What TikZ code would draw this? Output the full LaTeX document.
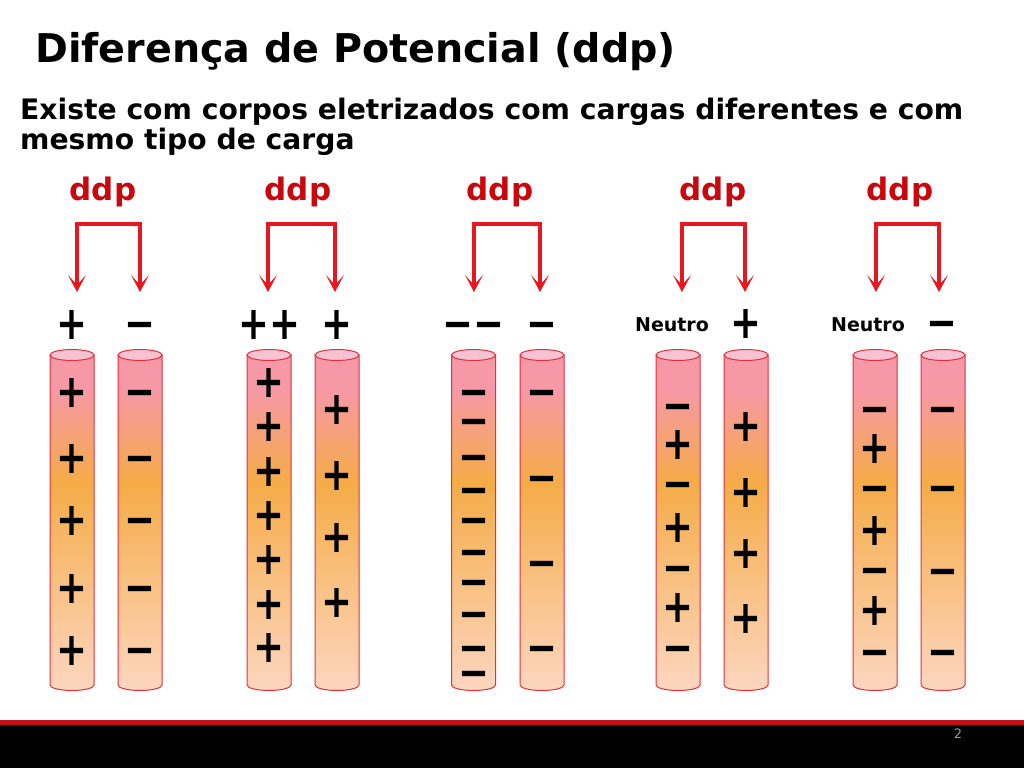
\documentclass[tikz,border=0pt]{standalone}
\usepackage{fontspec}
\setmainfont{DejaVu Sans}
\usetikzlibrary{arrows.meta,positioning}
\definecolor{vermelho}{RGB}{232,22,30}
\definecolor{ddpred}{RGB}{200,8,12}
\definecolor{contorno}{RGB}{226,48,60}
\definecolor{rosa}{RGB}{246,152,166}
\definecolor{laranja}{RGB}{245,172,72}
\definecolor{pessego}{RGB}{252,214,192}
\definecolor{tampa}{RGB}{248,194,210}
\definecolor{faixa}{RGB}{192,16,22}
\pgfdeclareverticalshading{barra}{100bp}{color(0bp)=(pessego); color(25bp)=(pessego); color(56bp)=(laranja); color(70bp)=(rosa); color(75bp)=(rosa); color(100bp)=(rosa)}
\newcommand{\mais}{\scalebox{1}[1.25]{+}}
\newcommand{\menos}{\scalebox{1}[1.25]{−}}
\tikzset{
  titulo/.style={anchor=base west, inner sep=0pt, font=\fontsize{39.6}{46}\selectfont\bfseries},
  texto/.style={anchor=base west, inner sep=0pt, font=\fontsize{28.2}{30}\selectfont\bfseries},
  ddplabel/.style={anchor=base, inner sep=0pt, text=ddpred, font=\fontsize{31}{36}\selectfont\bfseries},
  sinal/.style={anchor=base, yshift=-15.5pt, inner sep=0pt, font=\fontsize{37}{40}\selectfont\bfseries},
  neutro/.style={inner sep=0pt, font=\fontsize{19}{22}\selectfont\bfseries},
  seta/.style={draw=vermelho, line width=4.5pt, {Stealth[length=17pt,width=18pt,inset=10pt]}-{Stealth[length=17pt,width=18pt,inset=10pt]}},
  corpo/.style={draw=contorno, line width=1pt, shading=barra},
  tampa/.style={draw=contorno, line width=1pt, fill=tampa}
}
\begin{document}
\begin{tikzpicture}[x=1pt, y=1pt]
  \useasboundingbox (0,0) rectangle (1024,768);

  % titulo e texto
  \node [titulo] (titulo) at (35,705.5) {Diferença de Potencial (ddp)};
  \node [texto] (linha1) at (20,648) {Existe com corpos eletrizados com cargas diferentes e com};
  \node [texto] (linha2) at (20,618) {mesmo tipo de carga};

  % corpos (cilindros)
  \foreach \x in {72,140,269,337,473.5,542,678,746,875,943} {
    \shadedraw [corpo] (\x-22,413) -- (\x-22,83) arc [start angle=180, end angle=360, x radius=22, y radius=5.5] -- (\x+22,413) -- cycle;
    \draw [tampa] (\x,413) ellipse [x radius=22, y radius=5.5];
  }

  % rotulos ddp
  \node [ddplabel] (ddp1) at (103,567) {ddp};
  \node [ddplabel] (ddp2) at (298,567) {ddp};
  \node [ddplabel] (ddp3) at (500,567) {ddp};
  \node [ddplabel] (ddp4) at (713,567) {ddp};
  \node [ddplabel] (ddp5) at (900,567) {ddp};

  % cargas acima dos corpos
  \node [sinal] (topo1a) at (72,444) {\mais};
  \node [sinal] (topo1b) at (140,444) {\menos};
  \node [sinal] (topo2a) at (269,444) {\mais\mais};
  \node [sinal] (topo2b) at (337,444) {\mais};
  \node [sinal] (topo3a) at (473,444) {\menos\menos};
  \node [sinal] (topo3b) at (542,444) {\menos};
  \node [neutro] (topo4a) at (672,443) {Neutro};
  \node [sinal] (topo4b) at (746,445) {\mais};
  \node [neutro] (topo5a) at (868,443) {Neutro};
  \node [sinal] (topo5b) at (942,445) {\menos};

  % setas
  \coordinate (p1a) at (77,476);  \coordinate (p1b) at (140,476);
  \coordinate (p2a) at (268,476); \coordinate (p2b) at (335,476);
  \coordinate (p3a) at (474,476); \coordinate (p3b) at (540,476);
  \coordinate (p4a) at (682,476); \coordinate (p4b) at (745,476);
  \coordinate (p5a) at (876,476); \coordinate (p5b) at (939,476);
  \foreach \i in {1,...,5}
    \draw [seta] (p\i a) -- ++(0,68) -| (p\i b);

  % cargas nos corpos
  \foreach \y [count=\i] in {376,310,248,180,118} {
    \node [sinal] (c1a-\i) at (72,\y) {\mais};
    \node [sinal] (c1b-\i) at (140,\y) {\menos};
  }
  \foreach \y [count=\i] in {386,342,297,253,209,164,121}
    \node [sinal] (c2a-\i) at (269,\y) {\mais};
  \foreach \y [count=\i] in {359,293,231,166}
    \node [sinal] (c2b-\i) at (337,\y) {\mais};
  \foreach \y [count=\i] in {376,347,311,278,248,216,186,154,120,95}
    \node [sinal] (c3a-\i) at (473.5,\y) {\menos};
  \foreach \y [count=\i] in {376,290,205,120}
    \node [sinal] (c3b-\i) at (542,\y) {\menos};
  \foreach \y/\s [count=\i] in {362/\menos,324/\mais,284/\menos,241/\mais,200/\menos,161/\mais,120/\menos}
    \node [sinal] (c4a-\i) at (678,\y) {\s};
  \foreach \y [count=\i] in {342,276,215,150}
    \node [sinal] (c4b-\i) at (746,\y) {\mais};
  \foreach \y/\s [count=\i] in {359/\menos,320/\mais,280/\menos,238/\mais,198/\menos,158/\mais,116/\menos}
    \node [sinal] (c5a-\i) at (875,\y) {\s};
  \foreach \y [count=\i] in {359,280,197,116}
    \node [sinal] (c5b-\i) at (943,\y) {\menos};

  % rodape
  \fill [black] (0,0) rectangle (1024,43);
  \fill [faixa] (0,43) rectangle (1024,48);
  \node [inner sep=0pt, text=gray!80, font=\fontsize{13}{14}\selectfont] (pagina) at (958,34) {2};
\end{tikzpicture}
\end{document}
